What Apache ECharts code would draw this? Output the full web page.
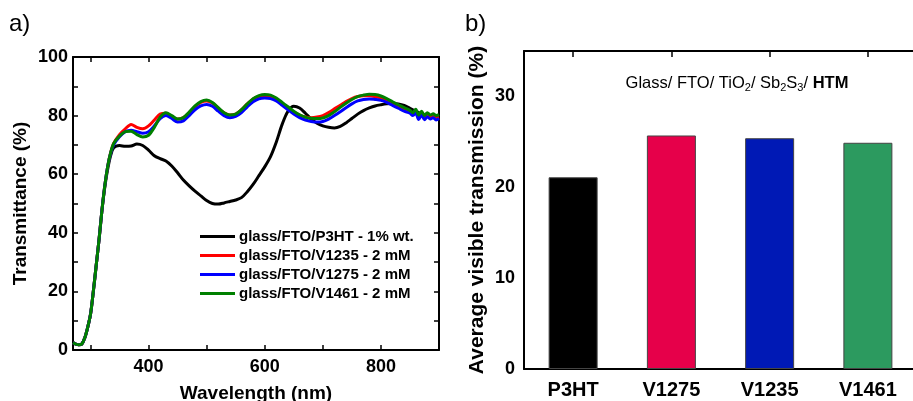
<!DOCTYPE html>
<html><head><meta charset="utf-8">
<script src="https://cdn.jsdelivr.net/npm/echarts@6/dist/echarts.min.js"></script>
<style>html,body{margin:0;padding:0;background:#fff}#c{width:913px;height:401px}</style>
</head><body><div id="c"></div>
<script>
const wavelength = [270,275,280,285,290,295,300,305,310,315,320,325,330,335,340,
350,360,370,380,390,400,410,420,430,440,450,460,470,480,490,500,510,520,530,540,550,560,570,580,590,600,610,620,630,640,650,660,670,680,690,700,710,720,730,740,750,760,770,780,790,800,810,820,830,840,850,
855,860,865,870,875,880,885,890,895,900];
const tP3HT = [2.5,2.0,1.8,2.0,4,7.5,12,20,29,38,48,56,62,66.5,69,
69.8,69.5,69.6,70.3,69.8,68.2,66.3,65.3,64.5,62.8,60.5,58,56,54.2,52.6,51,50,49.8,50.2,50.7,51.2,52,54,56.5,59.5,62.5,66,71,77,81.5,83.2,82.6,80.8,78.8,77.4,76.5,76,75.8,76.3,77.5,79,80.5,81.7,82.6,83.3,83.7,84,84.1,84,83.5,82.5,
82,81.5,81,80.5,80.2,80,79.7,79.5,79.3,79];
const tV1235 = [2.5,2.0,1.8,2.0,4,7.5,12,20,29,38,48,56.5,63,67.5,70.5,
73.5,75.5,77,76,75.5,76.5,78.5,80.5,80.8,79.5,78.8,79.3,81,83,84.5,85,84.3,82.5,81,80.2,80.5,82,84,85.7,86.5,86.8,86.5,85.5,84,82.5,81.2,80.2,79.5,79.3,79.5,80,81,82.3,83.5,84.8,85.8,86.5,86.8,86.8,86.5,86,85.2,84.2,83.2,82.2,81.5,
80.5,81.3,79.8,80.8,79.6,80.4,79.5,80,79.2,79.5];
const tV1275 = [2.5,2.0,1.8,2.0,4,7.5,12,20,29,38,48,56.5,63,67.3,70,
72.8,74.5,75,74.5,74,74.5,76.5,79,80,79,77.8,78.2,80,82,83.3,83.8,83.2,81.5,80,79.3,79.7,81,83,84.7,85.7,86,85.8,85,83.5,82,80.5,79.3,78.5,78,77.8,78,78.8,80,81.3,82.7,84,85,85.5,85.7,85.5,85.2,84.5,83.5,82.5,81.5,80.8,
80,80.8,78.7,80.2,78.6,79.6,78.8,79.3,78.5,79];
const tV1461 = [2.5,2.0,1.8,2.0,4,7.5,12,20,29,38,48,56.5,63,67.5,70.5,
73,74.5,74.7,73.5,72.7,73.3,76,79.5,81,80,78.8,79.3,81.2,83.3,84.8,85.3,84.5,82.7,81,80.2,80.5,82,84,85.8,86.8,87.2,87,86,84.5,83,81.5,80.3,79.5,79.1,79,79.2,80,81.3,82.8,84.2,85.5,86.5,87,87.3,87.2,86.7,85.8,84.7,83.7,82.7,81.8,
81,82.2,80.2,81.5,80,81,80.2,80.6,80,80.3];
const lineNames = ['glass/FTO/P3HT - 1% wt.','glass/FTO/V1235 - 2 mM','glass/FTO/V1275 - 2 mM','glass/FTO/V1461 - 2 mM'];
const lineColors = ['#000000','#ff0000','#0000ff','#008000'];
const xLabelVals = [400,600,800];
const xTickVals = [300,400,500,600,700,800,900];
const yLeftTicks = [0,10,20,30,40,50,60,70,80,90,100];
const yLeftLabels = [0,20,40,60,80,100];
const barCats = ['P3HT','V1275','V1235','V1461'];
const barVals = [21.1,25.7,25.4,24.9];
const barColors = ['#000000','#e6004a','#0019b5','#2c9a5f'];
const yRightTicks = [0,5,10,15,20,25,30,35];
const yRightLabels = [0,10,20,30];

const FF = '"Liberation Sans", Arial, sans-serif';
const lineSeries = [tP3HT,tV1235,tV1275,tV1461].map((arr,i)=>({
  name: lineNames[i], type:'line', xAxisIndex:0, yAxisIndex:0,
  data: wavelength.map((w,j)=>[w,arr[j]]), showSymbol:false, symbol:'none', smooth:0.3,
  lineStyle:{color:lineColors[i], width:3}, itemStyle:{color:lineColors[i]}, z:2+i
}));
const axLine = {show:true, onZero:false, lineStyle:{color:'#000', width:2}};
const tickStyle = {width:1.5, color:'#000'};
const chart = echarts.init(document.getElementById('c'));
chart.setOption({
  animation:false,
  textStyle:{fontFamily:FF},
  grid:[{left:73, top:57, width:366, height:293, outerBoundsMode:'none'},
        {left:524, top:51, width:393, height:318, outerBoundsMode:'none'}],
  legend:{data:lineNames, orient:'vertical', left:200, top:229, padding:0, itemGap:4,
    itemWidth:35, itemHeight:3, icon:'rect',
    textStyle:{fontFamily:FF, fontWeight:'bold', fontSize:15, color:'#000', padding:[0,0,0,-1]}},
  xAxis:[
    {type:'value', gridIndex:0, min:270, max:900, position:'bottom', axisLine:axLine,
     axisTick:{inside:true, length:5, customValues:xTickVals, lineStyle:tickStyle},
     axisLabel:{customValues:xLabelVals, fontFamily:FF, fontWeight:'bold', fontSize:18, color:'#000', margin:8},
     splitLine:{show:false}, name:'Wavelength (nm)', nameLocation:'middle', nameGap:34,
     nameTextStyle:{fontFamily:FF, fontWeight:'bold', fontSize:19, color:'#000'}},
    {type:'value', gridIndex:0, min:270, max:900, position:'top', axisLine:axLine,
     axisTick:{inside:true, length:5, customValues:xTickVals, lineStyle:tickStyle},
     axisLabel:{show:false}, splitLine:{show:false}},
    {type:'category', gridIndex:1, data:barCats, position:'bottom', axisLine:axLine,
     axisTick:{show:false}, axisLabel:{fontFamily:FF, fontWeight:'bold', fontSize:20, color:'#000', margin:11}},
    {type:'category', gridIndex:1, data:barCats, position:'top', axisLine:axLine,
     axisTick:{show:true, inside:true, alignWithLabel:true, length:6, lineStyle:tickStyle},
     axisLabel:{show:false}}
  ],
  yAxis:[
    {type:'value', gridIndex:0, min:0, max:100, position:'left', axisLine:axLine,
     axisTick:{inside:true, length:5, customValues:yLeftTicks, lineStyle:tickStyle},
     axisLabel:{customValues:yLeftLabels, fontFamily:FF, fontWeight:'bold', fontSize:18, color:'#000', margin:5},
     splitLine:{show:false}, name:'Transmittance (%)', nameLocation:'middle', nameGap:43,
     nameTextStyle:{fontFamily:FF, fontWeight:'bold', fontSize:19, color:'#000'}},
    {type:'value', gridIndex:0, min:0, max:100, position:'right', axisLine:axLine,
     axisTick:{inside:true, length:5, customValues:yLeftTicks, lineStyle:tickStyle},
     axisLabel:{show:false}, splitLine:{show:false}},
    {type:'value', gridIndex:1, min:0, max:35, position:'left', axisLine:axLine,
     axisTick:{inside:true, length:5, customValues:yRightTicks, lineStyle:tickStyle},
     axisLabel:{customValues:yRightLabels, fontFamily:FF, fontWeight:'bold', fontSize:18, color:'#000', margin:9},
     splitLine:{show:false}, name:'Average visible transmission (%)', nameLocation:'middle', nameGap:36,
     nameTextStyle:{fontFamily:FF, fontWeight:'bold', fontSize:21, color:'#000'}},
    {type:'value', gridIndex:1, min:0, max:35, position:'right', axisLine:axLine,
     axisTick:{inside:true, length:7, customValues:yRightTicks, lineStyle:tickStyle},
     axisLabel:{show:false}, splitLine:{show:false}}
  ],
  series: lineSeries.concat([{
    type:'bar', xAxisIndex:2, yAxisIndex:2, barWidth:49,
    data: barVals.map((v,i)=>({value:v, itemStyle:{color:barColors[i]}})),
    itemStyle:{borderColor:'#444', borderWidth:1}
  }]),
  graphic:[
    {type:'text', left:9, top:12, style:{text:'a)', fontFamily:FF, fontSize:24, fill:'#000'}},
    {type:'text', left:465, top:12, style:{text:'b)', fontFamily:FF, fontSize:24, fill:'#000'}},
    {type:'text', x:737, y:83, style:{
      text:'Glass/ FTO/ TiO{s|2}/ Sb{s|2}S{s|3}/ {b|HTM}', fontFamily:FF, fontSize:16.5, lineHeight:21,
      fill:'#000', align:'center', verticalAlign:'middle',
      rich:{s:{fontFamily:FF, fontSize:11, lineHeight:11, verticalAlign:'bottom', fill:'#000'},
            b:{fontFamily:FF, fontSize:16.5, lineHeight:21, fontWeight:'bold', fill:'#000'}}}}
  ]
});
</script></body></html>
